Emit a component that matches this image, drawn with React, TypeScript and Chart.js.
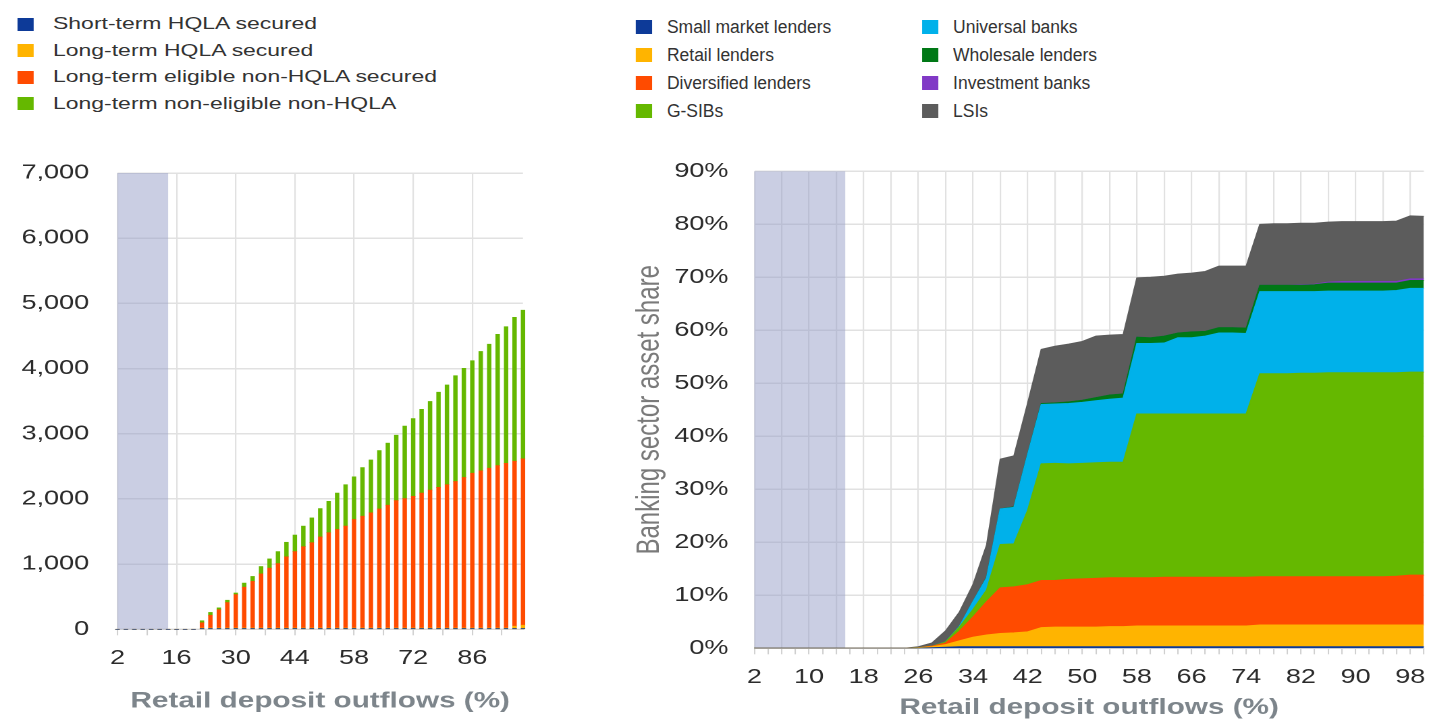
import React, { useEffect, useRef } from 'react';
import { Chart, registerables } from 'chart.js';

Chart.register(...registerables);

// ---------------- layout constants ----------------
const STRETCH = 1.35; // reference is horizontally stretched
const PAGE_W = 1429;
const PAGE_H = 719;
const FONT = "'Liberation Sans', Arial, sans-serif";
const GRID = '#e1e1e1';
const TICK_TEXT = '#2b2b2b';
const TITLE_TEXT = '#7d858b';

// ---------------- colours ----------------
const C_BLUE = '#0d3a98';
const C_YELLOW = '#ffb400';
const C_ORANGE = '#ff4b00';
const C_GREEN = '#65b800';
const C_CYAN = '#00b1ea';
const C_DKGREEN = '#007816';
const C_PURPLE = '#8139c6';
const C_GREY = '#5c5c5c';
const BAND = 'rgba(150,158,200,0.5)';

// ---------------- left chart data ----------------
const leftCategories = [
  2, 4, 6, 8, 10, 12, 14, 16, 18, 20, 22, 24, 26, 28, 30, 32, 34, 36, 38, 40, 42, 44, 46, 48, 50,
  52, 54, 56, 58, 60, 62, 64, 66, 68, 70, 72, 74, 76, 78, 80, 82, 84, 86, 88, 90, 92, 94, 96, 98,
];
const shortTermHQLA = [
  0, 0, 0, 0, 0, 0, 0, 0, 0, 0,
  8, 8, 8, 8, 8, 8, 8, 8, 8, 8, 8, 8, 8, 8, 8, 8, 8, 8, 8, 8, 8, 8, 8, 8, 8, 8, 8, 8, 8, 8, 8, 8, 8, 8, 8, 8, 8, 8, 8,
];
const longTermHQLA = [
  0, 0, 0, 0, 0, 0, 0, 0, 0, 0,
  12, 12, 12, 12, 12, 12, 12, 12, 12, 12, 12, 12, 12, 12, 12, 12, 12, 12, 12, 12, 12, 12, 12, 12, 12, 12, 12, 12, 12, 12, 12, 12, 12, 12, 12, 12, 12, 40, 55,
];
const eligibleNonHQLA = [
  0, 0, 0, 0, 0, 0, 0, 0, 0, 0,
  80, 195, 280, 390, 512, 626, 715, 830, 918, 989,
  1091, 1172, 1248, 1309, 1396, 1461, 1512, 1563, 1665, 1715,
  1766, 1827, 1883, 1954, 1985, 2020, 2070, 2116, 2157, 2198,
  2248, 2309, 2375, 2411, 2451, 2491, 2526, 2530, 2552,
];
const nonEligibleNonHQLA = [
  0, 0, 0, 0, 0, 0, 0, 0, 0, 0,
  31, 44, 29, 36, 25, 63, 76, 113, 142, 183,
  224, 254, 315, 380, 436, 482, 558, 635, 654, 746,
  812, 895, 953, 1004, 1113, 1192, 1284, 1360, 1461, 1531,
  1623, 1674, 1725, 1831, 1902, 2014, 2096, 2207, 2281,
];
const leftXLabels = [2, 16, 30, 44, 58, 72, 86];
const leftXMinorTicks = [2, 9, 16, 23, 30, 37, 44, 51, 58, 65, 72, 79, 86, 93];
const leftYTicks = [0, 1000, 2000, 3000, 4000, 5000, 6000, 7000];
const leftBand = [2, 14];
const leftLegend = [
  'Short-term HQLA secured',
  'Long-term HQLA secured',
  'Long-term eligible non-HQLA secured',
  'Long-term non-eligible non-HQLA',
];
const leftColors = [C_BLUE, C_YELLOW, C_ORANGE, C_GREEN];

// ---------------- right chart data ----------------
const rightCategories = [
  2, 4, 6, 8, 10, 12, 14, 16, 18, 20, 22, 24, 26, 28, 30, 32, 34, 36, 38, 40, 42, 44, 46, 48, 50,
  52, 54, 56, 58, 60, 62, 64, 66, 68, 70, 72, 74, 76, 78, 80, 82, 84, 86, 88, 90, 92, 94, 96, 98, 100,
];
const smallMarketLenders = [
  0, 0, 0, 0, 0, 0, 0, 0, 0, 0, 0, 0,
  0, 0.1, 0.2, 0.3, 0.3, 0.3, 0.3, 0.3, 0.3, 0.3, 0.3, 0.3, 0.3, 0.3, 0.3, 0.3,
  0.3, 0.3, 0.3, 0.3, 0.3, 0.3, 0.3, 0.3, 0.3,
  0.3, 0.3, 0.3, 0.3, 0.3, 0.3, 0.3, 0.3, 0.3, 0.3, 0.3, 0.3, 0.3,
];
const retailLenders = [
  0, 0, 0, 0, 0, 0, 0, 0, 0, 0, 0, 0,
  0.1, 0.2, 0.5, 1.1, 1.8, 2.2, 2.5, 2.6, 2.8, 3.6, 3.7, 3.7, 3.7, 3.7, 3.8, 3.8,
  3.9, 3.9, 3.9, 3.9, 3.9, 3.9, 3.9, 3.9, 3.9,
  4.1, 4.1, 4.1, 4.1, 4.1, 4.1, 4.1, 4.1, 4.1, 4.1, 4.1, 4.1, 4.1,
];
const diversifiedLenders = [
  0, 0, 0, 0, 0, 0, 0, 0, 0, 0, 0, 0,
  0, 0.1, 0.3, 1.8, 3.8, 6.3, 8.6, 8.7, 8.9, 8.9, 8.8, 9.0, 9.1, 9.2, 9.2, 9.2,
  9.1, 9.1, 9.2, 9.2, 9.2, 9.2, 9.2, 9.2, 9.2,
  9.1, 9.1, 9.1, 9.1, 9.1, 9.1, 9.1, 9.1, 9.1, 9.1, 9.2, 9.4, 9.4,
];
const gSIBs = [
  0, 0, 0, 0, 0, 0, 0, 0, 0, 0, 0, 0,
  0, 0, 0.2, 0.8, 1.4, 2.2, 8.2, 8.1, 14.0, 22.0, 22.1, 21.8, 21.8, 21.8, 21.8, 21.8,
  30.9, 30.9, 30.8, 30.8, 30.8, 30.8, 30.8, 30.8, 30.8,
  38.3, 38.3, 38.3, 38.4, 38.4, 38.5, 38.5, 38.5, 38.5, 38.5, 38.4, 38.3, 38.3,
];
const universalBanks = [
  0, 0, 0, 0, 0, 0, 0, 0, 0, 0, 0, 0,
  0, 0, 0, 0.1, 1.5, 2.3, 6.7, 6.9, 10.5, 11.2, 11.2, 11.4, 11.5, 11.7, 11.9, 12.1,
  13.3, 13.3, 13.4, 14.4, 14.4, 14.7, 15.3, 15.3, 15.2,
  15.5, 15.5, 15.5, 15.4, 15.4, 15.4, 15.4, 15.4, 15.4, 15.4, 15.5, 15.8, 15.8,
];
const wholesaleLenders = [
  0, 0, 0, 0, 0, 0, 0, 0, 0, 0, 0, 0,
  0, 0, 0, 0, 0, 0.1, 0, 0.1, 0.1, 0.2, 0.2, 0.3, 0.4, 0.6, 0.8, 0.8,
  1.2, 1.1, 1.3, 0.9, 1.1, 0.9, 1.0, 1.0, 1.0,
  1.2, 1.2, 1.2, 1.2, 1.3, 1.5, 1.5, 1.5, 1.5, 1.5, 1.4, 1.5, 1.5,
];
const investmentBanks = [
  0, 0, 0, 0, 0, 0, 0, 0, 0, 0, 0, 0,
  0, 0, 0, 0, 0, 0, 0, 0, 0, 0, 0, 0, 0, 0, 0, 0,
  0, 0, 0, 0, 0, 0, 0, 0, 0,
  0, 0, 0, 0.1, 0.1, 0.2, 0.3, 0.3, 0.3, 0.3, 0.3, 0.3, 0.3,
];
const lsis = [
  0, 0, 0, 0, 0, 0, 0, 0, 0, 0, 0, 0,
  0.2, 0.6, 2.1, 2.7, 3.2, 6.1, 9.4, 9.6, 9.6, 10.2, 10.7, 10.9, 11.1, 11.6, 11.3, 11.2,
  11.2, 11.4, 11.3, 11.1, 11.1, 11.3, 11.6, 11.6, 11.7,
  11.5, 11.6, 11.6, 11.6, 11.5, 11.3, 11.3, 11.3, 11.3, 11.3, 11.4, 11.9, 11.8,
];
const rightXLabels = [2, 10, 18, 26, 34, 42, 50, 58, 66, 74, 82, 90, 98];
const rightYTicks = [0, 10, 20, 30, 40, 50, 60, 70, 80, 90];
const rightBand = [2, 15.3];
const rightSeries = [
  { label: 'Small market lenders', data: smallMarketLenders, color: C_BLUE },
  { label: 'Retail lenders', data: retailLenders, color: C_YELLOW },
  { label: 'Diversified lenders', data: diversifiedLenders, color: C_ORANGE },
  { label: 'G-SIBs', data: gSIBs, color: C_GREEN },
  { label: 'Universal banks', data: universalBanks, color: C_CYAN },
  { label: 'Wholesale lenders', data: wholesaleLenders, color: C_DKGREEN },
  { label: 'Investment banks', data: investmentBanks, color: C_PURPLE },
  { label: 'LSIs', data: lsis, color: C_GREY },
];

// ---------------- geometry (unstretched px) ----------------
const LEFT_CANVAS = { left: 0, top: 140, width: 404, height: 579 };
const RIGHT_CANVAS = { left: 444.4, top: 140, width: 614, height: 579 };

const bandPlugin = {
  id: 'band',
  beforeDatasetsDraw(chart: any, _args: any, opts: any) {
    const { ctx, chartArea, scales } = chart;
    const x = scales.x;
    const x0 = x.getPixelForValue(opts.from);
    const x1 = x.getPixelForValue(opts.to);
    ctx.save();
    ctx.fillStyle = opts.color;
    ctx.fillRect(x0, chartArea.top, x1 - x0, chartArea.bottom - chartArea.top);
    ctx.restore();
  },
};

function leftConfig(): any {
  const series = [shortTermHQLA, longTermHQLA, eligibleNonHQLA, nonEligibleNonHQLA];
  return {
    type: 'bar',
    data: {
      datasets: series.map((vals, i) => ({
        label: leftLegend[i],
        data: leftCategories.map((c, j) => ({ x: c, y: vals[j] })),
        backgroundColor: leftColors[i],
        borderWidth: 0,
        barThickness: 2.6,
        clip: false,
      })),
    },
    plugins: [bandPlugin],
    options: {
      responsive: false,
      animation: false,
      devicePixelRatio: 2,
      layout: { padding: { top: 29, right: 16.6, left: 0, bottom: 0 } },
      plugins: {
        legend: { display: false },
        tooltip: { enabled: false },
        band: { from: leftBand[0], to: leftBand[1], color: BAND },
      },
      scales: {
        x: {
          type: 'linear',
          stacked: true,
          min: 2,
          max: 98,
          offset: false,
          afterBuildTicks: (s: any) => {
            s.ticks = leftXMinorTicks.map((v) => ({ value: v }));
          },
          afterFit: (s: any) => {
            s.height = 89.7;
            s.paddingLeft = 0;
            s.paddingRight = 0;
          },
          grid: {
            offset: false,
            color: (ctx: any) =>
              ctx.tick && leftXLabels.includes(ctx.tick.value) ? GRID : 'rgba(0,0,0,0)',
            lineWidth: 1.1,
            drawTicks: true,
            tickLength: 6,
            tickColor: '#cfcfcf',
            tickWidth: 1,
          },
          border: { color: '#d6d6d6', width: 1 },
          ticks: {
            autoSkip: false,
            maxRotation: 0,
            minRotation: 0,
            padding: 11,
            color: TICK_TEXT,
            font: { family: FONT, size: 20 },
            callback: (v: any) => (leftXLabels.includes(v) ? String(v) : ''),
          },
          title: {
            display: true,
            text: 'Retail deposit outflows (%)',
            color: TITLE_TEXT,
            font: { family: FONT, size: 22, weight: 'bold', lineHeight: 1 },
            padding: { top: 0, bottom: 6.5 },
          },
        },
        y: {
          stacked: true,
          min: 0,
          max: 7000,
          afterBuildTicks: (s: any) => {
            s.ticks = leftYTicks.map((v) => ({ value: v }));
          },
          afterFit: (s: any) => {
            s.width = 87;
          },
          grid: { color: GRID, lineWidth: 1.5, drawTicks: false },
          border: { display: false },
          ticks: {
            padding: 21,
            color: TICK_TEXT,
            font: { family: FONT, size: 20 },
            callback: (v: any) => Number(v).toLocaleString('en-US'),
          },
        },
      },
    },
  };
}

function rightConfig(): any {
  return {
    type: 'line',
    data: {
      labels: rightCategories.map(String),
      datasets: rightSeries.map((s, i) => ({
        label: s.label,
        data: s.data,
        borderColor: s.color,
        backgroundColor: s.color,
        borderWidth: 1,
        pointRadius: 0,
        tension: 0,
        fill: i === 0 ? 'origin' : '-1',
      })),
    },
    plugins: [bandPlugin],
    options: {
      responsive: false,
      animation: false,
      devicePixelRatio: 2,
      layout: { padding: { top: 29, right: 3.3, left: 0, bottom: 0 } },
      plugins: {
        legend: { display: false },
        tooltip: { enabled: false },
        band: {
          from: (rightBand[0] - rightCategories[0]) / 2,
          to: (rightBand[1] - rightCategories[0]) / 2,
          color: BAND,
        },
      },
      scales: {
        x: {
          type: 'category',
          offset: false,
          afterFit: (s: any) => {
            s.height = 70.7;
            s.paddingLeft = 0;
            s.paddingRight = 0;
          },
          grid: {
            offset: false,
            color: (ctx: any) => (ctx.index % 2 === 0 ? GRID : 'rgba(0,0,0,0)'),
            lineWidth: 1.1,
            drawTicks: true,
            tickLength: 6,
            tickColor: '#cfcfcf',
            tickWidth: 1,
          },
          border: { color: '#d6d6d6', width: 1 },
          ticks: {
            autoSkip: false,
            maxRotation: 0,
            minRotation: 0,
            padding: 11,
            color: TICK_TEXT,
            font: { family: FONT, size: 20 },
            callback: (_v: any, idx: number) =>
              rightXLabels.includes(rightCategories[idx]) ? String(rightCategories[idx]) : '',
          },
          title: {
            display: true,
            text: 'Retail deposit outflows (%)',
            color: TITLE_TEXT,
            font: { family: FONT, size: 22, weight: 'bold', lineHeight: 1 },
            padding: { top: 0, bottom: 0 },
          },
        },
        y: {
          stacked: true,
          min: 0,
          max: 90,
          afterBuildTicks: (s: any) => {
            s.ticks = rightYTicks.map((v) => ({ value: v }));
          },
          afterFit: (s: any) => {
            s.width = 114.8;
          },
          grid: { color: GRID, lineWidth: 1.5, drawTicks: false },
          border: { display: false },
          ticks: {
            padding: 19.3,
            color: TICK_TEXT,
            font: { family: FONT, size: 20 },
            callback: (v: any) => v + '%',
          },
          title: {
            display: true,
            text: 'Banking sector asset share',
            color: '#7a7a7a',
            font: { family: FONT, size: 24, lineHeight: 1.2 },
            padding: { top: 23, bottom: 0 },
          },
        },
      },
    },
  };
}

const squareStyle = (left: number, cy: number, w: number, h: number, color: string): React.CSSProperties => ({
  position: 'absolute',
  left,
  top: cy - h / 2,
  width: w,
  height: h,
  background: color,
});

export default function App() {
  const leftRef = useRef<HTMLCanvasElement>(null);
  const rightRef = useRef<HTMLCanvasElement>(null);

  useEffect(() => {
    const c1 = new Chart(leftRef.current as HTMLCanvasElement, leftConfig());
    const c2 = new Chart(rightRef.current as HTMLCanvasElement, rightConfig());
    return () => {
      c1.destroy();
      c2.destroy();
    };
  }, []);

  const leftRows = [24, 50.5, 77, 103.5];
  const rightRows = [27, 55, 83, 111];
  const rightCols = [
    { sq: 471, tx: 494 },
    { sq: 683, tx: 706 },
  ];

  return (
    <div
      style={{
        position: 'fixed',
        left: 0,
        top: 0,
        width: PAGE_W / STRETCH,
        height: PAGE_H,
        transform: `scaleX(${STRETCH})`,
        transformOrigin: '0 0',
        background: '#ffffff',
        fontFamily: FONT,
        overflow: 'hidden',
      }}
    >
      {leftLegend.map((label, i) => (
        <React.Fragment key={label}>
          <div style={squareStyle(12.5, leftRows[i], 12.5, 13, leftColors[i])} />
          <div
            style={{
              position: 'absolute',
              left: 39.3,
              top: leftRows[i] - 11,
              height: 22,
              lineHeight: '22px',
              fontSize: 17,
              color: '#333',
              whiteSpace: 'nowrap',
            }}
          >
            {label}
          </div>
        </React.Fragment>
      ))}
      {rightSeries.map((s, i) => {
        const col = rightCols[Math.floor(i / 4)];
        const cy = rightRows[i % 4];
        return (
          <React.Fragment key={s.label}>
            <div style={squareStyle(col.sq, cy, 12, 14, s.color)} />
            <div
              style={{
                position: 'absolute',
                left: col.tx,
                top: cy - 12,
                height: 24,
                lineHeight: '24px',
                fontSize: 18,
                color: '#333',
                whiteSpace: 'nowrap',
                transform: 'scaleX(0.72)',
                transformOrigin: '0 50%',
              }}
            >
              {s.label}
            </div>
          </React.Fragment>
        );
      })}
      <canvas
        ref={leftRef}
        width={LEFT_CANVAS.width}
        height={LEFT_CANVAS.height}
        style={{
          position: 'absolute',
          left: LEFT_CANVAS.left,
          top: LEFT_CANVAS.top,
          width: LEFT_CANVAS.width,
          height: LEFT_CANVAS.height,
        }}
      />
      <canvas
        ref={rightRef}
        width={RIGHT_CANVAS.width}
        height={RIGHT_CANVAS.height}
        style={{
          position: 'absolute',
          left: RIGHT_CANVAS.left,
          top: RIGHT_CANVAS.top,
          width: RIGHT_CANVAS.width,
          height: RIGHT_CANVAS.height,
        }}
      />
    </div>
  );
}
